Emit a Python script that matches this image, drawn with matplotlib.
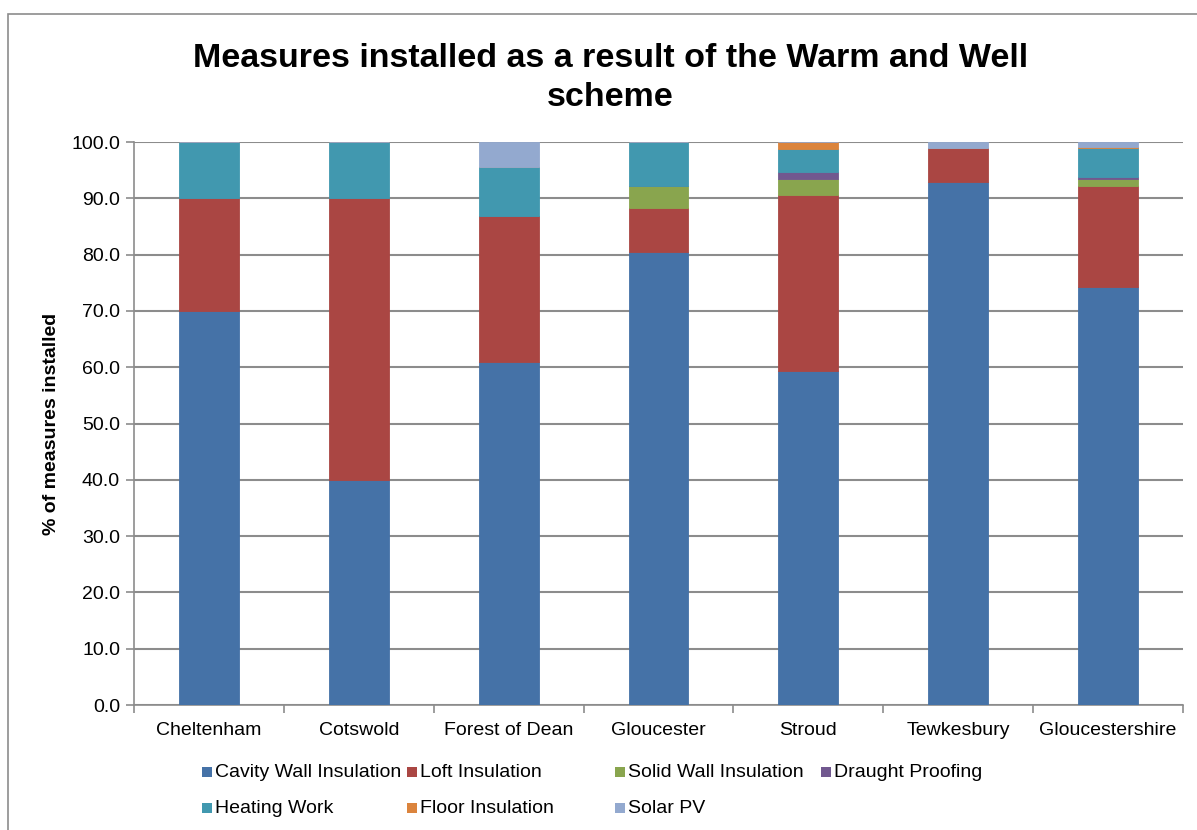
import numpy as np
import matplotlib.pyplot as plt
from matplotlib.patches import Rectangle

plt.rcParams["font.family"] = ["Liberation Sans", "DejaVu Sans"]

districts = ["Cheltenham", "Cotswold", "Forest of Dean", "Gloucester",
             "Stroud", "Tewkesbury", "Gloucestershire"]

cavity_wall = [70.0, 40.0, 60.9, 80.4, 59.4, 92.9, 74.2]
loft = [20.0, 50.0, 26.0, 7.8, 31.2, 6.0, 18.0]
solid_wall = [0.0, 0.0, 0.0, 3.9, 2.8, 0.0, 1.2]
draught = [0.0, 0.0, 0.0, 0.0, 1.2, 0.0, 0.4]
heating = [10.0, 10.0, 8.7, 7.9, 4.1, 0.0, 5.1]
floor = [0.0, 0.0, 0.0, 0.0, 1.3, 0.0, 0.3]
solar_pv = [0.0, 0.0, 4.4, 0.0, 0.0, 1.1, 0.8]

series = [
    ("Cavity Wall Insulation", cavity_wall, "#4572A7"),
    ("Loft Insulation", loft, "#AA4643"),
    ("Solid Wall Insulation", solid_wall, "#89A54E"),
    ("Draught Proofing", draught, "#71588F"),
    ("Heating Work", heating, "#4198AF"),
    ("Floor Insulation", floor, "#DB843D"),
    ("Solar PV", solar_pv, "#93A9CF"),
]

fig = plt.figure(figsize=(11.97, 8.30), dpi=100)
ax = fig.add_axes([134 / 1197, 1 - 705 / 830, 1049 / 1197, 563 / 830])

# outer chart border
fig.patches.append(Rectangle((8 / 1197, -0.05), 1.2, 1 - 14 / 830 + 0.05,
                             transform=fig.transFigure, fill=False,
                             edgecolor="#8c8c8c", linewidth=1.2))

x = np.arange(len(districts))
bottom = np.zeros(len(districts))
for name, vals, color in series:
    vals = np.array(vals)
    ax.bar(x, vals, width=0.4, bottom=bottom, color=color,
           edgecolor=color, linewidth=0.6, zorder=3)
    bottom += vals

ax.set_xlim(-0.5, len(districts) - 0.5)
ax.set_ylim(0, 100)
ax.set_yticks(np.arange(0, 101, 10))
ax.set_yticklabels([f"{v:.1f}" for v in np.arange(0, 101, 10)], fontsize=14)
ax.set_xticks(x)
ax.set_xticklabels(districts, fontsize=14)
ax.set_xticks(np.arange(-0.5, len(districts), 1), minor=True)
ax.tick_params(axis="x", which="major", length=0, pad=12)
ax.tick_params(axis="x", which="minor", length=6, color="#8c8c8c", width=1.2)
ax.tick_params(axis="y", length=6, color="#8c8c8c", width=1.2, pad=4)

ax.grid(axis="y", color="#8c8c8c", linewidth=1.5, zorder=0)
ax.set_axisbelow(True)
for s in ["top", "right"]:
    ax.spines[s].set_visible(False)
for s in ["left", "bottom"]:
    ax.spines[s].set_color("#8c8c8c")
    ax.spines[s].set_linewidth(1.2)

ax.set_ylabel("% of measures installed", fontsize=14, fontweight="bold", labelpad=8)

fig.text(0.51, 1 - 78 / 830,
         "Measures installed as a result of the Warm and Well\nscheme",
         ha="center", va="center", fontsize=24.5, fontweight="bold", linespacing=1.3)

# legend laid out like the original: 4 equal columns, two rows
col_x = [207, 412, 620, 826]
row_y = [772, 808]
for i, (name, vals, color) in enumerate(series):
    cx = col_x[i % 4]
    cy = row_y[i // 4]
    fig.patches.append(Rectangle(((cx - 5) / 1197, 1 - (cy + 5) / 830), 10 / 1197, 10 / 830,
                                 transform=fig.transFigure, facecolor=color, edgecolor="none"))
    fig.text((cx + 8) / 1197, 1 - cy / 830, name, ha="left", va="center", fontsize=14)

fig.savefig("out.png", dpi=100)
